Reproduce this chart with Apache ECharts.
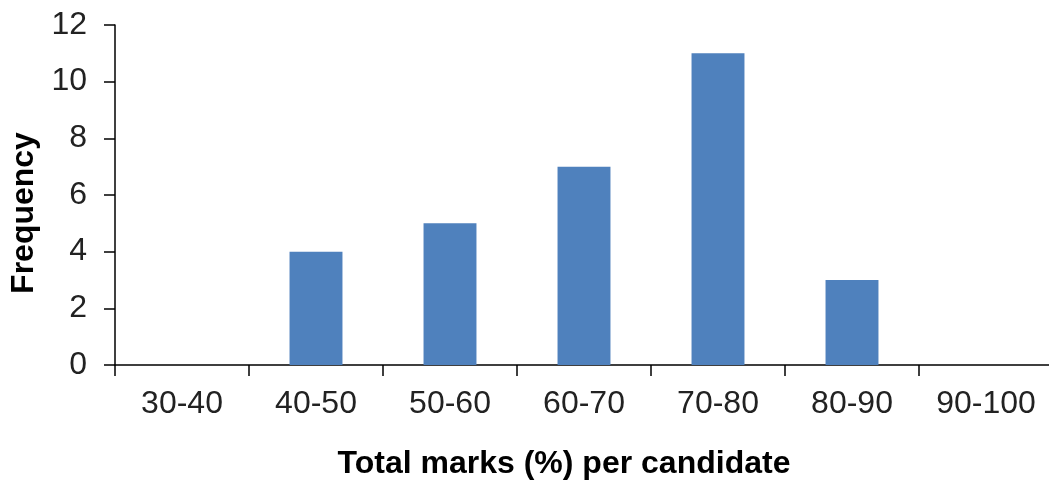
<!DOCTYPE html>
<html>
<head>
<meta charset="utf-8">
<script src="https://cdn.jsdelivr.net/npm/echarts@6/dist/echarts.min.js"></script>
<style>
  html, body { margin: 0; padding: 0; background: #fff; }
  #chart { width: 1049px; height: 480px; }
</style>
</head>
<body>
<div id="chart"></div>
<script>
// Mark bands and how many candidates fell in each
const categories = ['30-40', '40-50', '50-60', '60-70', '70-80', '80-90', '90-100'];
const frequency = [0, 4, 5, 7, 11, 3, 0];
const yTicks = { min: 0, max: 12, interval: 2 };

const font = '"Liberation Sans", Arial, sans-serif';
const chart = echarts.init(document.getElementById('chart'), null, { renderer: 'canvas' });

chart.setOption({
  backgroundColor: '#ffffff',
  animation: false,
  grid: {
    left: 115, top: 25, width: 938, height: 340,
    containLabel: false,
    outerBoundsMode: 'none'
  },
  xAxis: {
    type: 'category',
    data: categories,
    name: 'Total marks (%) per candidate',
    nameLocation: 'middle',
    nameGap: 83,
    nameTextStyle: { fontFamily: font, fontSize: 32, fontWeight: 'bold', color: '#000', padding: [0, 40, 0, 0] },
    axisLine: { lineStyle: { color: '#000', width: 1.5 } },
    axisTick: { show: true, alignWithLabel: false, length: 11, lineStyle: { color: '#000', width: 1.5 } },
    axisLabel: { fontFamily: font, fontSize: 32, color: '#222', margin: 23 },
    splitLine: { show: false }
  },
  yAxis: {
    type: 'value',
    min: yTicks.min,
    max: yTicks.max,
    interval: yTicks.interval,
    name: 'Frequency',
    nameLocation: 'middle',
    nameGap: 74,
    nameRotate: 90,
    nameTextStyle: { fontFamily: font, fontSize: 32, fontWeight: 'bold', color: '#000', padding: [0, 36, 0, 0] },
    axisLine: { show: true, lineStyle: { color: '#000', width: 1.5 } },
    axisTick: { show: true, length: 11, lineStyle: { color: '#000', width: 1.5 } },
    axisLabel: { fontFamily: font, fontSize: 32, color: '#222', margin: 28 },
    splitLine: { show: false }
  },
  series: [{
    type: 'bar',
    data: frequency,
    barWidth: '39.5%',
    itemStyle: { color: '#4F81BD' }
  }]
});
</script>
</body>
</html>
